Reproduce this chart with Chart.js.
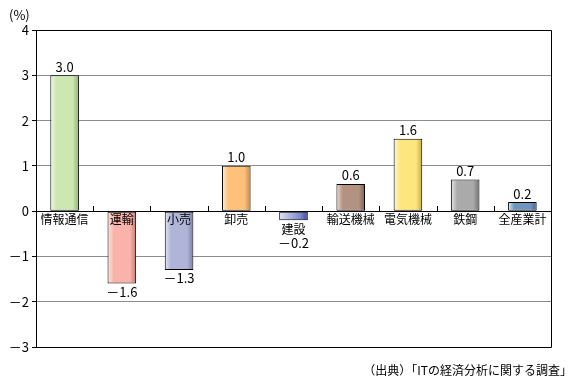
<!DOCTYPE html>
<html>
<head>
<meta charset="utf-8">
<script src="https://cdn.jsdelivr.net/npm/chart.js@4"></script>
<style>
  html, body { margin: 0; padding: 0; background: #fff; }
  #wrap { width: 579px; height: 389px; position: relative; }
</style>
</head>
<body>
<div id="wrap"><canvas id="chart" width="579" height="389"></canvas></div>
<script>
// data
const categories = ['情報通信', '運輸', '小売', '卸売', '建設', '輸送機械', '電気機械', '鉄鋼', '全産業計'];
const values = [3.0, -1.6, -1.3, 1.0, -0.2, 0.6, 1.6, 0.7, 0.2];
const yTicks = [4, 3, 2, 1, 0, -1, -2, -3];

// bar colours: [highlight, main, shade]
const barColors = [
  ['#eef8e6', '#cce8b0', '#8fb074'],
  ['#ffe6e2', '#f9b3aa', '#c07e76'],
  ['#e4e6f4', '#b0b4d8', '#7a7ea6'],
  ['#fff0dc', '#fdc17a', '#c48c48'],
  ['#dfe2f6', '#7c86cc', '#3a48a0'],
  ['#ecdcd2', '#b39282', '#7a5e50'],
  ['#fff8d8', '#fde67e', '#c2aa48'],
  ['#e8e8e8', '#aaaaaa', '#707070'],
  ['#dce8f4', '#6e96be', '#3e648c']
];

const FONT = '"Noto Sans CJK JP", "Noto Sans", sans-serif';
const BAR_FRAC = 0.5;

function fmt(v) {
  return v < 0 ? '－' + Math.abs(v).toFixed(1) : v.toFixed(1);
}

function barGradient(ctx) {
  const chart = ctx.chart;
  const c = barColors[ctx.dataIndex];
  const x = chart.scales.x;
  if (!chart.chartArea || !x) return c[1];
  const center = x.getPixelForValue(ctx.dataIndex);
  const half = (x.width / categories.length) * BAR_FRAC / 2;
  const g = chart.ctx.createLinearGradient(center - half, 0, center + half, 0);
  if (ctx.dataIndex === 4) {
    g.addColorStop(0, c[0]);
    g.addColorStop(0.75, c[1]);
    g.addColorStop(1, c[2]);
  } else {
    g.addColorStop(0, c[0]);
    g.addColorStop(0.22, c[1]);
    g.addColorStop(0.78, c[1]);
    g.addColorStop(1, c[2]);
  }
  return g;
}

// frame, zero-line ticks, category and value labels, notes
const decor = {
  id: 'decor',
  afterDatasetsDraw(chart) {
    const { ctx, chartArea: a, scales: { x, y } } = chart;
    const zero = y.getPixelForValue(0);
    const step = x.width / categories.length;
    ctx.save();
    ctx.strokeStyle = '#000';
    ctx.lineWidth = 1;
    ctx.beginPath();
    ctx.moveTo(a.left, a.top + 0.5);
    ctx.lineTo(a.right + 0.5, a.top + 0.5);
    ctx.lineTo(a.right + 0.5, a.bottom + 0.5);
    ctx.lineTo(a.left, a.bottom + 0.5);
    for (let i = 1; i < categories.length; i++) {
      const px = Math.round(a.left + step * i) + 0.5;
      ctx.moveTo(px, Math.round(zero) + 0.5);
      ctx.lineTo(px, Math.round(zero) - 5);
    }
    ctx.stroke();

    ctx.fillStyle = '#000';
    ctx.font = '12px ' + FONT;
    ctx.textAlign = 'center';
    ctx.textBaseline = 'top';
    values.forEach((v, i) => {
      const cx = x.getPixelForValue(i);
      const end = y.getPixelForValue(v);
      let labelTop = zero + 2;
      if (v < 0 && end > zero + 2 && end < zero + 14) labelTop = end + 3;
      ctx.fillText(categories[i], cx, labelTop);
      ctx.font = '13px ' + FONT;
      if (v >= 0) {
        ctx.textBaseline = 'bottom';
        ctx.fillText(fmt(v), cx, end - 2);
        ctx.textBaseline = 'top';
      } else {
        const top = labelTop > zero + 2 ? labelTop + 13 : end + 2;
        ctx.fillText(fmt(v), cx, top);
      }
      ctx.font = '12px ' + FONT;
    });

    ctx.textAlign = 'left';
    ctx.font = '13px ' + FONT;
    ctx.fillText('(%)', 9, 9);
    ctx.font = '12px ' + FONT;
    ctx.textAlign = 'right';
    ctx.fillText('（出典）「ITの経済分析に関する調査」', 572, 364);
    ctx.restore();
  }
};

new Chart(document.getElementById('chart'), {
  type: 'bar',
  data: {
    labels: categories,
    datasets: [{
      data: values,
      backgroundColor: barGradient,
      borderColor: '#000',
      borderWidth: 1,
      borderSkipped: false,
      barPercentage: BAR_FRAC,
      categoryPercentage: 1
    }]
  },
  options: {
    responsive: false,
    animation: false,
    events: [],
    layout: { padding: { left: 0, top: 30, right: 28, bottom: 42 } },
    plugins: { legend: { display: false }, tooltip: { enabled: false } },
    scales: {
      x: {
        display: false,
        offset: true
      },
      y: {
        min: -3,
        max: 4,
        afterFit(scale) { scale.width = 36; },
        afterBuildTicks(scale) { scale.ticks = yTicks.map(v => ({ value: v })); },
        border: { display: true, color: '#000' },
        grid: {
          color: c => (c.tick && (c.tick.value === 0 || c.tick.value === 4 || c.tick.value === -3)) ? '#000' : '#8c8c8c',
          tickColor: '#000',
          tickLength: 4,
          lineWidth: 1
        },
        ticks: {
          color: '#000',
          padding: 3,
          font: { size: 13, family: FONT },
          callback: v => v < 0 ? '－' + Math.abs(v) : String(v)
        }
      }
    }
  },
  plugins: [decor]
});
</script>
</body>
</html>
